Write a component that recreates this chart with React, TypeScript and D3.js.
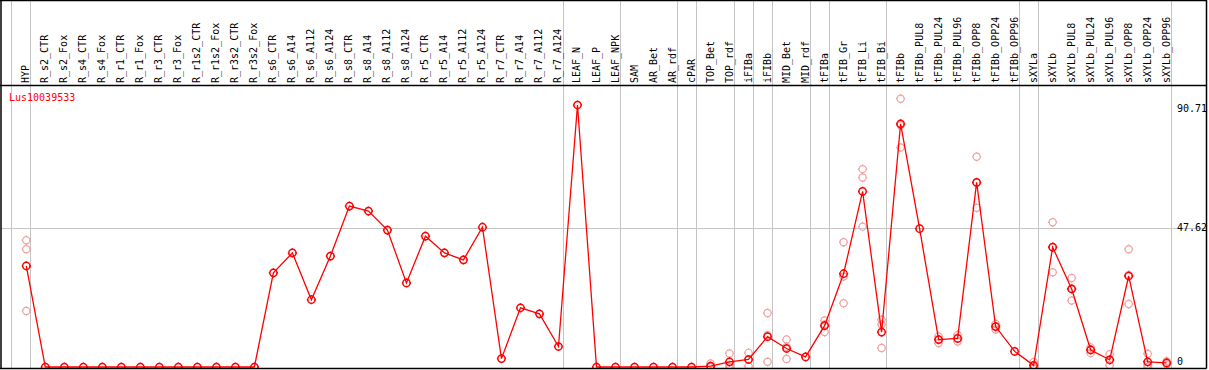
import React from "react";
import * as d3 from "d3";

const categories = [
  "HYP", "R_s2_CTR", "R_s2_Fox", "R_s4_CTR", "R_s4_Fox", "R_r1_CTR", "R_r1_Fox", "R_r3_CTR", "R_r3_Fox",
  "R_r1s2_CTR", "R_r1s2_Fox", "R_r3s2_CTR", "R_r3s2_Fox", "R_s6_CTR", "R_s6_A14", "R_s6_A112", "R_s6_A124",
  "R_s8_CTR", "R_s8_A14", "R_s8_A112", "R_s8_A124", "R_r5_CTR", "R_r5_A14", "R_r5_A112", "R_r5_A124",
  "R_r7_CTR", "R_r7_A14", "R_r7_A112", "R_r7_A124", "LEAF_N", "LEAF_P", "LEAF_NPK", "SAM", "AR_Bet", "AR_rdf",
  "cPAR", "TOP_Bet", "TOP_rdf", "iFIBa", "iFIBb", "MID_Bet", "MID_rdf", "tFIBa", "tFIB_Gr", "tFIB_Li", "tFIB_Bi",
  "tFIBb", "tFIBb_PUL8", "tFIBb_PUL24", "tFIBb_PUL96", "tFIBb_OPP8", "tFIBb_OPP24", "tFIBb_OPP96",
  "sXYLa", "sXYLb", "sXYLb_PUL8", "sXYLb_PUL24", "sXYLb_PUL96", "sXYLb_OPP8", "sXYLb_OPP24", "sXYLb_OPP96",
];

const means = [
  35.0, 0, 0, 0, 0, 0, 0, 0, 0, 0, 0, 0, 0, 32.6, 39.5, 23.3, 38.4,
  55.7, 54.0, 47.4, 29.1, 45.3, 39.5, 37.1, 48.4,
  2.9, 20.5, 18.4, 7.1, 90.71, 0, 0, 0, 0, 0,
  0, 0.3, 1.8, 2.6, 10.5, 6.4, 3.5, 14.3, 32.3, 60.8, 12.1,
  84.2, 47.9, 9.5, 9.9, 63.9, 14.0, 5.4,
  0.6, 41.5, 27.0, 5.9, 2.5, 31.5, 1.8, 1.4,
];

const replicates: number[][] = [
  [43.9, 40.8, 19.4], [], [], [], [], [], [], [], [], [], [], [], [], [], [], [], [],
  [], [], [], [], [], [], [], [],
  [], [], [], [], [], [], [], [], [], [],
  [], [1.2, 0, 0], [4.7, 0.7, 0], [4.9, 2.6, 0.3], [18.7, 11.0, 1.8], [9.5, 6.9, 2.8], [], [16.1, 14.7, 12.1],
  [43.2, 31.3, 22.1], [68.5, 65.6, 48.6], [16.4, 14.7, 6.6],
  [92.9, 83.7, 76.0], [], [10.6, 9.5, 8.3], [11.1, 9.9, 8.8], [72.8, 63.8, 55.1], [14.9, 14.0, 13.0], [],
  [1.7, 0.1, 0], [50.1, 41.5, 32.8], [30.8, 27.2, 23.0], [6.8, 6.1, 4.8], [4.4, 2.5, 0.6], [40.8, 31.9, 21.8],
  [4.6, 0.8, 0], [2.0, 1.4, 0.9],
];

// indices of the last category of each group (grid line drawn after it)
const groupEnds = [-1, 0, 28, 31, 34, 35, 37, 38, 39, 41, 42, 45, 52, 53, 60];
const yTicks = [0, 47.62, 90.71];
const title = "Lus10039533";

const W = 1209;
const H = 370;
const FONT = "'DejaVu Sans Mono', monospace";

function marker(cx: number, cy: number) {
  return `M${cx - 4.6},${cy}h1M${cx + 3.6},${cy}h1M${cx},${cy - 4.6}v1M${cx},${cy + 3.6}v1`;
}

export default function App() {
  const n = categories.length;
  const x = d3.scaleLinear().domain([0, n - 1]).range([26.3, 1166.7]);
  const y = d3.scaleLinear().domain([0, d3.max(means) as number]).range([367, 105]);
  const left = 1;
  const right = 1206.5;
  const headerY = 85;
  const bottom = 368.5;
  const line = d3
    .line<number>()
    .x((_, i) => x(i))
    .y((d) => y(d));

  const yMax = d3.max(yTicks) as number;
  const labelY = (v: number) => {
    if (v === yMax) return y(v) + 3.5;
    if (v === 0) return y(v) - 5;
    return y(v) - 1.5;
  };

  return (
    <svg width={W} height={H} style={{ position: "absolute", left: 0, top: 0, background: "#fff" }}>
      <defs>
        <clipPath id="plot">
          <rect x={left} y={headerY} width={right - left} height={bottom - headerY} />
        </clipPath>
      </defs>
      <rect x={0} y={0} width={W} height={H} fill="#fff" />
      {groupEnds.map((g) => (
        <line
          key={"g" + g}
          x1={Math.round(x(g + 0.22)) + 0.5}
          x2={Math.round(x(g + 0.22)) + 0.5}
          y1={0}
          y2={bottom}
          stroke="#c4c4c4"
          strokeWidth={1}
        />
      ))}
      {yTicks
        .filter((t) => t !== 0 && t !== yMax)
        .map((t) => (
          <line
            key={"h" + t}
            x1={left}
            x2={right}
            y1={Math.round(y(t)) - 0.5}
            y2={Math.round(y(t)) - 0.5}
            stroke="#c4c4c4"
            strokeWidth={1}
          />
        ))}
      {categories.map((c, i) => (
        <text
          key={c}
          transform={`translate(${x(i) + 3},83) rotate(-90)`}
          fontFamily={FONT}
          fontSize={10}
          fill="#000"
        >
          {c}
        </text>
      ))}
      {yTicks.map((t) => (
        <text
          key={"t" + t}
          x={1177}
          y={labelY(t)}
          textAnchor="start"
          dominantBaseline="middle"
          fontFamily={FONT}
          fontSize={10}
          fill="#000"
        >
          {t === 0 ? "0" : t.toFixed(2)}
        </text>
      ))}
      <text x={9} y={101} fontFamily={FONT} fontSize={10} fill="#ff0000">
        {title}
      </text>
      <g clipPath="url(#plot)">
        {replicates.map((reps, i) =>
          reps.map((v, j) => (
            <g key={`r${i}-${j}`} stroke="#f0a0a0" fill="none" strokeWidth={1.2}>
              <circle cx={x(i)} cy={y(v)} r={3.6} />
              <path d={marker(x(i), y(v))} />
            </g>
          ))
        )}
        <path d={line(means) || ""} fill="none" stroke="#ff0000" strokeWidth={1.3} />
        {means.map((v, i) => (
          <g key={"m" + i} stroke="#ff0000" fill="none" strokeWidth={1.5}>
            <circle cx={x(i)} cy={y(v)} r={3.6} />
            <path d={marker(x(i), y(v))} />
          </g>
        ))}
      </g>
      <line x1={0} x2={right} y1={0.5} y2={0.5} stroke="#000" strokeWidth={1.5} />
      <line x1={0} x2={right} y1={headerY + 0.5} y2={headerY + 0.5} stroke="#000" strokeWidth={1.5} />
      <line x1={0} x2={right} y1={bottom} y2={bottom} stroke="#000" strokeWidth={1.5} />
      <line x1={left} x2={left} y1={0} y2={bottom} stroke="#000" strokeWidth={1.5} />
      <line x1={right} x2={right} y1={0} y2={bottom} stroke="#000" strokeWidth={1.5} />
    </svg>
  );
}
